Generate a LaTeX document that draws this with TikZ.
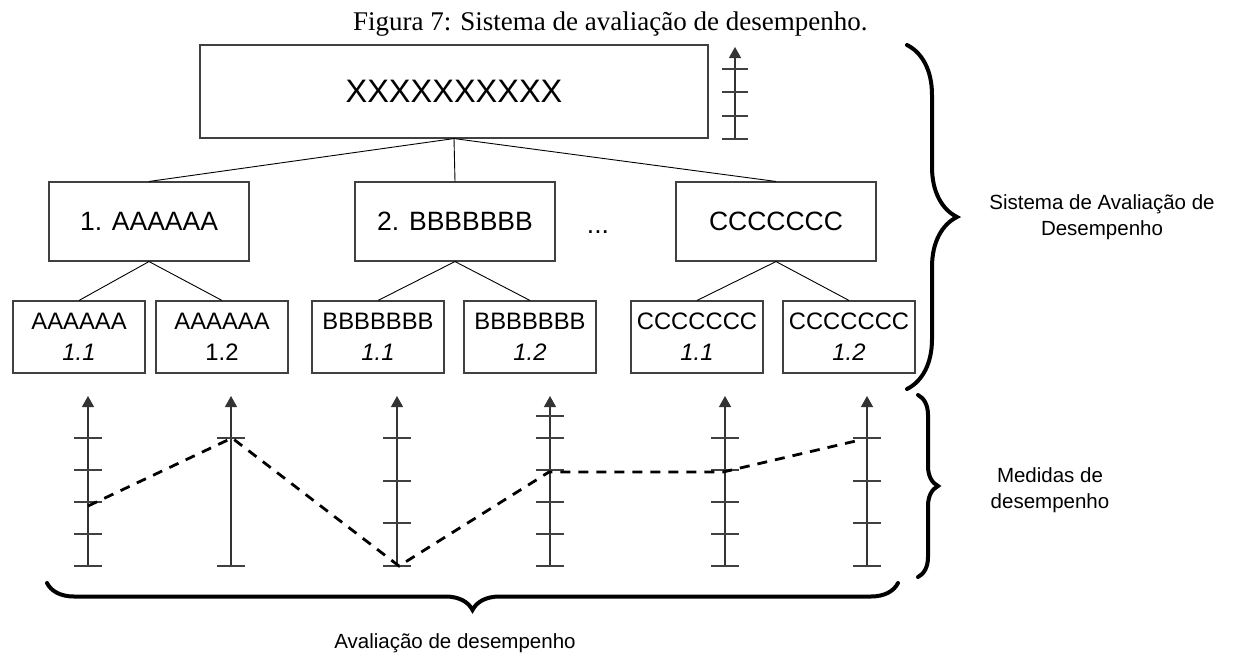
\documentclass[tikz,border=0pt]{standalone}
\usepackage{fontspec}
\setmainfont{Liberation Sans}
\newfontfamily\captionfont{Liberation Serif}
\usetikzlibrary{arrows.meta,decorations.pathreplacing}

\begin{document}
\begin{tikzpicture}[x=1pt,y=-1pt,
  box/.style={draw=black!75, line width=1.1pt, inner sep=0pt, align=center},
  topbox/.style={box, minimum width=508pt, minimum height=93pt, font=\fontsize{32.5}{38}\selectfont},
  midbox/.style={box, minimum width=200pt, minimum height=79pt, font=\fontsize{26.5}{32}\selectfont},
  leafbox/.style={box, minimum width=132pt, minimum height=72pt, font=\fontsize{23.8}{31}\selectfont},
  link/.style={draw=black, line width=0.9pt},
  axisline/.style={draw=black!80, line width=1.3pt, -{Triangle[length=11pt,width=12pt]}},
  tick/.style={draw=black!75, line width=1.2pt},
  trend/.style={draw=black, line width=2.8pt, dash pattern=on 10pt off 8pt},
  curly/.style={draw=black, line width=4pt, line cap=round, decorate},
  label/.style={align=center, font=\fontsize{20.5}{26}\selectfont}
]
\useasboundingbox (0,0) rectangle (1234,657);

% caption
\node[font=\captionfont\fontsize{27}{30}\selectfont, anchor=base west, inner sep=0pt] (caption) at (353,30) {Figura 7: Sistema de avaliação de desempenho.};

% hierarchy
\node[topbox] (root) at (454,91.5) {XXXXXXXXXX};

\node[midbox] (m1) at (149,221.5) {1. AAAAAA};
\node[midbox] (m2) at (455,221.5) {2. BBBBBBB};
\node[font=\fontsize{26.5}{32}\selectfont, anchor=base] (dots) at (598,233) {...};
\node[midbox] (m3) at (776,221.5) {CCCCCCC};

\node[leafbox] (a1) at (79,337)  {AAAAAA\\\textit{1.1}};
\node[leafbox] (a2) at (222,337) {AAAAAA\\1.2};
\node[leafbox] (b1) at (378,337) {BBBBBBB\\\textit{1.1}};
\node[leafbox] (b2) at (530,337) {BBBBBBB\\\textit{1.2}};
\node[leafbox] (c1) at (697,337) {CCCCCCC\\\textit{1.1}};
\node[leafbox] (c2) at (849,337) {CCCCCCC\\\textit{1.2}};

\draw[link] (root.south) -- (m1.north);
\draw[link] (root.south) -- (m2.north);
\draw[link] (root.south) -- (m3.north);
\draw[link] (m1.south) -- (a1.north);
\draw[link] (m1.south) -- (a2.north);
\draw[link] (m2.south) -- (b1.north);
\draw[link] (m2.south) -- (b2.north);
\draw[link] (m3.south) -- (c1.north);
\draw[link] (m3.south) -- (c2.north);

% scale beside the root box
\draw[axisline] (735,139) -- (735,47);
\foreach \t in {69,92,116,139} \draw[tick] (722,\t) -- (748,\t);

% measurement scales
\draw[axisline] (88,566) -- (88,396);
\foreach \t in {438,470,502,534,566} \draw[tick] (74,\t) -- (102,\t);
\draw[axisline] (231,566) -- (231,396);
\foreach \t in {438,566} \draw[tick] (217,\t) -- (245,\t);
\draw[axisline] (397,566) -- (397,396);
\foreach \t in {438,481,523,566} \draw[tick] (383,\t) -- (411,\t);
\draw[axisline] (550,566) -- (550,396);
\foreach \t in {416,438,470,502,534,566} \draw[tick] (536,\t) -- (564,\t);
\draw[axisline] (725,566) -- (725,396);
\foreach \t in {438,470,502,534,566} \draw[tick] (711,\t) -- (739,\t);
\draw[axisline] (867,566) -- (867,396);
\foreach \t in {438,481,523,566} \draw[tick] (853,\t) -- (881,\t);

% measured values
\coordinate (v1) at (88,506);
\coordinate (v2) at (232,438);
\coordinate (v3) at (399,566);
\coordinate (v4) at (549,472);
\coordinate (v5) at (723,472);
\coordinate (v6) at (860,440);
\draw[trend] (v1) -- (v2) -- (v3) -- (v4) -- (v5) -- (v6);

% braces
\draw[curly, decoration={brace, amplitude=50pt}] (907,45) -- (907,389);
\draw[curly, decoration={brace, amplitude=20pt}] (918,395) -- (918,577);
\draw[curly, decoration={brace, amplitude=27pt}] (898,583) -- (47,583);

\node[label] (sad) at (1102,217) {Sistema de Avaliação de\\Desempenho};
\node[label] (md) at (1050,490) {Medidas de\\desempenho};
\node[label] (ad) at (455,643) {Avaliação de desempenho};
\end{tikzpicture}
\end{document}
